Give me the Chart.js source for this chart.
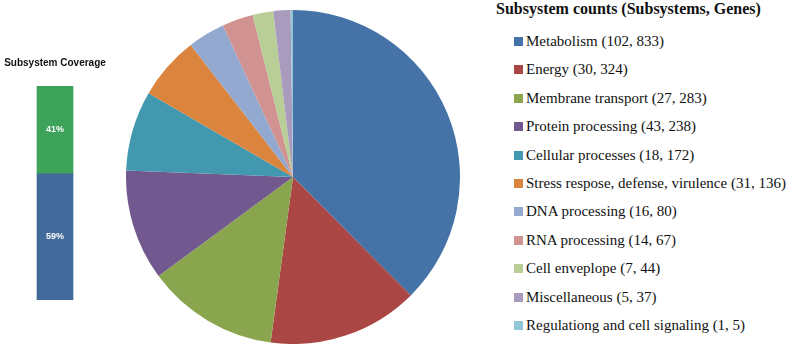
<!DOCTYPE html>
<html><head><meta charset="utf-8">
<script src="https://cdn.jsdelivr.net/npm/chart.js@4/dist/chart.umd.min.js"></script>
<style>
html,body{margin:0;padding:0;background:#fff;width:791px;height:345px;overflow:hidden;}
#barWrap{position:absolute;left:0;top:50px;width:110px;height:260px;}
#pieWrap{position:absolute;left:126px;top:10px;width:334px;height:334px;}
#legend{position:absolute;left:496px;top:0;font-family:"Liberation Serif","Times New Roman",serif;color:#111;}
#legend .title{font-weight:bold;font-size:16px;line-height:18px;white-space:nowrap;}
#legend .items{position:absolute;left:18px;top:27px;}
#legend .row{height:28.4px;line-height:28.4px;font-size:15px;white-space:nowrap;}
#legend .sw{display:inline-block;width:9px;height:9px;margin-right:3px;vertical-align:middle;position:relative;top:-1px;}
</style></head>
<body>
<div id="barWrap"><canvas id="bar"></canvas></div>
<div id="pieWrap"><canvas id="pie"></canvas></div>
<div id="legend"><div class="title" id="legTitle"></div><div class="items" id="legItems"></div></div>
<script>
// ---- data ----
const categories = ["Metabolism","Energy","Membrane transport","Protein processing","Cellular processes","Stress respose, defense, virulence","DNA processing","RNA processing","Cell enveplope","Miscellaneous","Regulationg and cell signaling"];
const subsystemCounts = [102,30,27,43,18,31,16,14,7,5,1];
const geneCounts = [833,324,283,238,172,136,80,67,44,37,5];
const sliceColors = ["#4572A7","#AA4643","#89A54E","#71588F","#4198AF","#DB843D","#93A9CF","#D19392","#B9CD96","#A99BBD","#92C5D8"];
const legendTitle = "Subsystem counts (Subsystems, Genes)";

const coverageTitle = "Subsystem Coverage";
const coverageLabels = ["Not in subsystem","In subsystem"];
const coverageValues = [59,41];
const coverageColors = ["#41699A","#3DA25A"];

// ---- legend (HTML text from arrays) ----
document.getElementById('legTitle').textContent = legendTitle;
const items = document.getElementById('legItems');
categories.forEach((c,i)=>{
  const r=document.createElement('div'); r.className='row';
  const s=document.createElement('span'); s.className='sw'; s.style.background=sliceColors[i];
  r.appendChild(s);
  r.appendChild(document.createTextNode(c+' ('+subsystemCounts[i]+', '+geneCounts[i]+')'));
  items.appendChild(r);
});

// ---- pie ----
new Chart(document.getElementById('pie'),{
  type:'pie',
  data:{labels:categories,datasets:[{data:geneCounts,backgroundColor:sliceColors,borderWidth:0}]},
  options:{responsive:true,maintainAspectRatio:false,animation:false,
    layout:{padding:0},
    plugins:{legend:{display:false},tooltip:{enabled:false}}}
});

// ---- coverage bar ----
const pctLabels={id:'pctLabels',afterDatasetsDraw(chart){
  const ctx=chart.ctx;ctx.save();
  ctx.fillStyle='#fff';ctx.font='bold 9px "Liberation Sans",Arial,sans-serif';
  ctx.textAlign='center';ctx.textBaseline='middle';
  chart.data.datasets.forEach((ds,di)=>{
    const el=chart.getDatasetMeta(di).data[0];
    const y=(el.y+el.base)/2;
    ctx.fillText(ds.data[0]+'%',el.x,y);
  });
  ctx.restore();
}};
new Chart(document.getElementById('bar'),{
  type:'bar',
  data:{labels:[''],datasets:coverageLabels.map((l,i)=>({label:l,data:[coverageValues[i]],backgroundColor:coverageColors[i],barThickness:36,borderWidth:0}))},
  options:{responsive:true,maintainAspectRatio:false,animation:false,
    layout:{padding:{top:0,bottom:10,left:0,right:0}},
    scales:{x:{display:false,stacked:true},y:{display:false,stacked:true,min:0,max:100}},
    plugins:{legend:{display:false},tooltip:{enabled:false},
      title:{display:true,text:coverageTitle,color:'#111',font:{family:'"Liberation Sans",Arial,sans-serif',size:10,weight:'bold'},padding:{top:7,bottom:17}}}},
  plugins:[pctLabels]
});
</script>
</body></html>
